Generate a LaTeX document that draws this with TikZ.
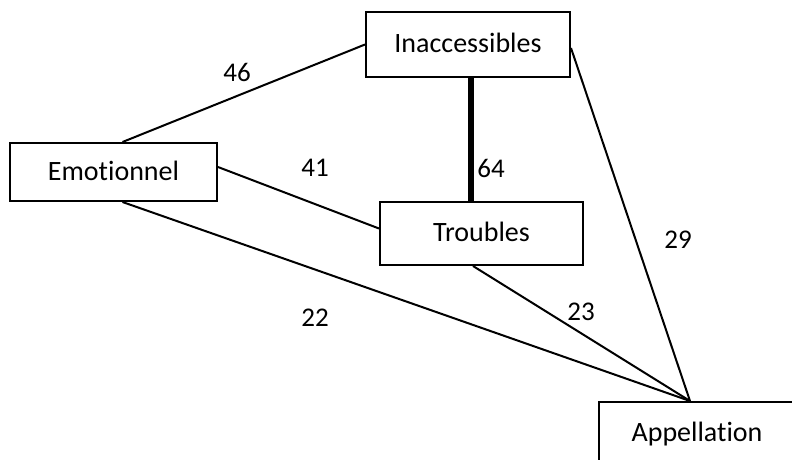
\documentclass[tikz,border=0pt]{standalone}
\usepackage{fontspec}
\setmainfont{Carlito}[Ligatures={NoCommon}]
\begin{document}
\begin{tikzpicture}[x=1pt,y=-1pt,
  box/.style={draw, line width=2pt, inner sep=0pt, font=\fontsize{28}{32}\selectfont},
  link/.style={line width=2pt},
  weight/.style={font=\fontsize{27}{31}\selectfont, inner sep=0pt}]
\useasboundingbox (0,0) rectangle (792,459);
\begin{scope}
\clip (0,0) rectangle (792,459);
\node[box, minimum width=207pt, minimum height=58pt] (emo) at (113.5,172) {\raisebox{3pt}{Emotionnel}};
\node[box, minimum width=204pt, minimum height=65pt] (ina) at (468,44.5) {\raisebox{3pt}{Inaccessibles}};
\node[box, minimum width=203pt, minimum height=63pt] (tro) at (481.5,233.5) {\raisebox{3pt}{Troubles}};
\node[box, minimum width=210pt, minimum height=64pt] (app) at (704,434) {\hspace*{-14pt}\raisebox{3pt}{Appellation}};
\coordinate (apex) at ([xshift=-14pt]app.north);
\draw[link] ([xshift=9pt]emo.north) -- (ina.west);
\draw[link] ([yshift=5pt]emo.east) -- ([yshift=5pt]tro.west);
\draw[link] ([xshift=9pt]emo.south) -- (apex);
\draw[line width=6pt] ([xshift=3pt]ina.south) -- ([xshift=3pt]ina.south |- tro.north);
\draw[link] ([yshift=-3.5pt]ina.east) -- (apex);
\draw[link] ([xshift=-8.5pt]tro.south) -- (apex);
\node[weight] (w46) at (237,72) {46};
\node[weight] (w41) at (315,168) {41};
\node[weight] (w64) at (491,168) {64};
\node[weight] (w29) at (678,240) {29};
\node[weight] (w22) at (315,318) {22};
\node[weight] (w23) at (581,312) {23};
\end{scope}
\end{tikzpicture}
\end{document}
